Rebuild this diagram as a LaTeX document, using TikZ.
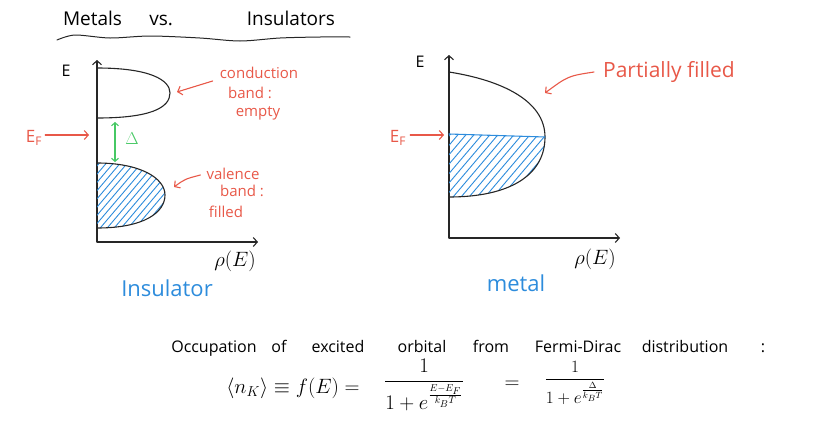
\documentclass[tikz,border=0pt]{standalone}
\usepackage{amsmath}
\usepackage{fontspec}
\setmainfont{Open Sans}
\usetikzlibrary{arrows.meta}
\definecolor{pred}{RGB}{232,88,72}
\definecolor{pblue}{RGB}{45,140,220}
\definecolor{pgreen}{RGB}{70,200,100}
\begin{document}
\begin{tikzpicture}[x=1pt,y=-1pt,line cap=round,line join=round,
  ink/.style={draw=black!85,line width=1.1pt},
  axisarr/.style={ink,{Straight Barb[length=4pt,width=9pt]}-{Straight Barb[length=4pt,width=9pt]}},
  redarr/.style={draw=pred,line width=1.1pt,-{Straight Barb[length=4pt,width=9pt]}},
  greenarr/.style={draw=pgreen,line width=1.1pt,{Straight Barb[length=3pt,width=7pt]}-{Straight Barb[length=3pt,width=7pt]}},
  hatch/.style={draw=pblue,line width=0.9pt},
  redtxt/.style={text=pred,font=\fontsize{15}{18}\selectfont,inner sep=1pt},
  bluetxt/.style={text=pblue,font=\fontsize{22}{26}\selectfont,inner sep=1pt},
  blktxt/.style={text=black,font=\fontsize{16}{19}\selectfont,inner sep=1pt},
  wordtxt/.style={text=black,font=\fontsize{16}{19}\selectfont,inner sep=1pt,anchor=base}]
\useasboundingbox (0,0) rectangle (816,445);

% title
\node[blktxt,font=\fontsize{19}{23}\selectfont] (title) at (199,18) {\makebox[272pt][s]{Metals vs. Insulators}};
\draw[ink,line width=1pt] plot[smooth] coordinates {(57,40) (75,35) (110,38) (150,36) (200,38) (240,41) (280,38) (320,37) (350,37)};

% ---------------- Insulator ----------------
\draw[axisarr] (97,60) -- (97,242) -- (258,242);
\node[blktxt] (Ei) at (66,71) {E};
\node[blktxt,font=\fontsize{20}{24}\selectfont] (rhoi) at (235,261) {$\rho(E)$};
\node[bluetxt] (ins) at (167,288) {Insulator};

% valence band hatching
\begin{scope}
\clip (97,163) .. controls (140,163) and (165,178) .. (165,195) .. controls (165,212) and (145,228) .. (97,228) -- cycle;
\foreach \x in {20,27,...,170} \draw[hatch] (\x,240) -- ++(85,-100);
\end{scope}
% bands
\draw[ink] (97,68) .. controls (150,68) and (170,80) .. (170,93) .. controls (170,108) and (150,118) .. (97,118);
\draw[ink] (97,163) .. controls (140,163) and (165,178) .. (165,195) .. controls (165,212) and (145,228) .. (97,228);
\coordinate (cb) at (177,92);
\coordinate (vb) at (174,187);

% gap
\coordinate (gtop) at (115,122);
\coordinate (gbot) at (115,162);
\draw[greenarr] (gtop) -- (gbot);
\node[text=pgreen,font=\fontsize{17}{20}\selectfont] (delta) at (132,139) {$\Delta$};

% Fermi level
\node[redtxt,font=\fontsize{17}{20}\selectfont] (EFi) at (34,138) {E$_\mathrm{F}$};
\coordinate (EFia) at (89,135);
\draw[redarr] (EFi.east) ++(2,-3) -- (EFia);

% labels
\node[redtxt] (cond1) at (259,73) {conduction};
\node[redtxt] (cond2) at (250,93) {band :};
\node[redtxt] (cond3) at (258,113) {empty};
\draw[redarr] (cond1.west) ++(-6,8) .. controls (195,86) .. (cb);
\node[redtxt] (val1) at (233,174) {valence};
\node[redtxt] (val2) at (242,191) {band :};
\node[redtxt] (val3) at (226,212) {filled};
\draw[redarr] (val1.west) ++(-5,1) .. controls (185,179) .. (vb);

% ---------------- Metal ----------------
\draw[axisarr] (449,55) -- (449,238) -- (620,238);
\node[blktxt] (Em) at (420,62) {E};
\node[blktxt,font=\fontsize{20}{24}\selectfont] (rhom) at (595,259) {$\rho(E)$};
\node[bluetxt] (met) at (516,283) {metal};

\begin{scope}
\clip (449,134) -- (545,137) .. controls (545,175) and (510,197) .. (449,197) -- cycle;
\foreach \x in {370,378,...,550} \draw[hatch] (\x,210) -- ++(85,-100);
\end{scope}
\draw[ink] (449,72) .. controls (500,80) and (545,100) .. (545,137) .. controls (545,175) and (510,197) .. (449,197);
\draw[draw=pblue,line width=1.1pt] (449,134) -- (545,137);
\coordinate (mb) at (545,93);

\node[redtxt,font=\fontsize{17}{20}\selectfont] (EFm) at (398,138) {E$_\mathrm{F}$};
\coordinate (EFma) at (444,135);
\draw[redarr] (EFm.east) ++(3,-3) -- (EFma);

\node[redtxt,font=\fontsize{21}{25}\selectfont] (part) at (669,72) {Partially filled};
\draw[redarr] (part.west) ++(-8,0) .. controls (568,76) .. (mb);

% ---------------- formula ----------------
\node[wordtxt] (w1) at (214,352) {Occupation};
\node[wordtxt] (w2) at (279,352) {of};
\node[wordtxt] (w3) at (338,352) {excited};
\node[wordtxt] (w4) at (422,352) {orbital};
\node[wordtxt] (w5) at (491,352) {from};
\node[wordtxt] (w6) at (578,352) {Fermi-Dirac};
\node[wordtxt] (w7) at (685,352) {distribution};
\node[wordtxt] (w8) at (763,352) {:};
\node[blktxt,font=\fontsize{20}{24}\selectfont] (lhs) at (293,388) {$\langle n_K\rangle \equiv f(E) =$};
\node[blktxt,font=\fontsize{20}{24}\selectfont] (fr1) at (424,385) {$\dfrac{1}{1+e^{\frac{E-E_F}{k_BT}}}$};
\node[blktxt,font=\fontsize{20}{24}\selectfont] (eq2) at (512,385) {$=$};
\node[blktxt,font=\fontsize{19}{23}\selectfont] (fr2) at (575,383) {$\dfrac{1}{1+e^{\frac{\Delta}{k_BT}}}$};
\end{tikzpicture}
\end{document}
